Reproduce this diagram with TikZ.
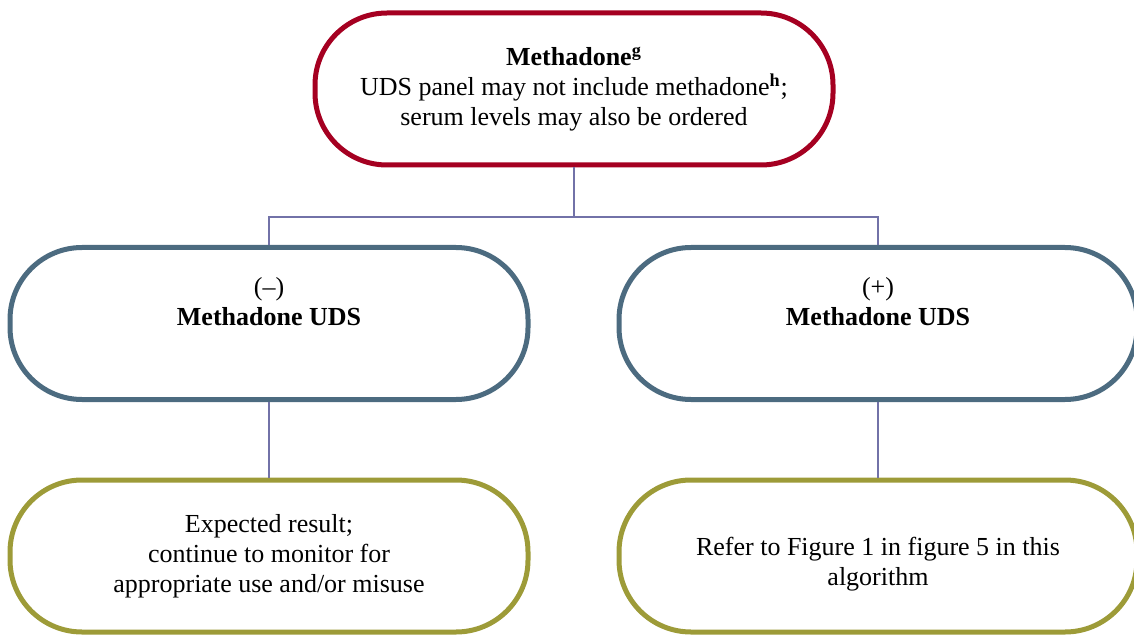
\documentclass[tikz,border=0pt]{standalone}
\usepackage{fontspec}
\setmainfont{Liberation Serif}
\usepackage{tikz}

\definecolor{topred}{HTML}{A50021}
\definecolor{midteal}{HTML}{4C6B80}
\definecolor{lowolive}{HTML}{9D9B38}
\definecolor{linkblue}{HTML}{7272A8}

\begin{document}
\begin{tikzpicture}[x=0.5pt, y=-0.5pt,
  every node/.style={font=\fontsize{13}{15}\selectfont, align=center},
  pill/.style={draw, line width=2.5pt, rounded corners=36pt, fill=white,
    minimum width=259pt, minimum height=76pt, inner sep=0pt},
  link/.style={draw=linkblue, line width=0.9pt}]
  \useasboundingbox (0,0) rectangle (1134,636);
  % boxes
  \node[pill, draw=topred] (methadone) at (574,89)
    {\textbf{Methadone\textsuperscript{g}}\\
     UDS panel may not include methadone\textsuperscript{\textbf{h}};\\
     serum levels may also be ordered};
  \node[pill, draw=midteal] (neguds) at (269,323.5)
    {(--)\\\textbf{Methadone UDS}\\[7pt]\mbox{}};
  \node[pill, draw=midteal] (posuds) at (878,323.5)
    {(+)\\\textbf{Methadone UDS}\\[7pt]\mbox{}};
  \node[pill, draw=lowolive] (negres) at (269,556)
    {Expected result;\\continue to monitor for\\appropriate use and/or misuse};
  \node[pill, draw=lowolive] (posres) at (878,556)
    {\mbox{}\\[2pt]Refer to Figure 1 in figure 5 in this\\algorithm};
  % connectors
  \coordinate (split) at (574,217);
  \draw[link] (methadone) -- (split);
  \draw[link] (neguds) |- (split) -| (posuds);
  \draw[link] (neguds) -- (negres);
  \draw[link] (posuds) -- (posres);
\end{tikzpicture}
\end{document}
